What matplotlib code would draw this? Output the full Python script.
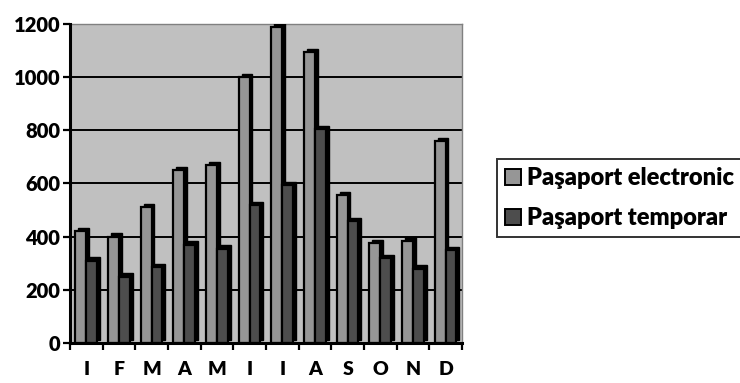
import matplotlib
matplotlib.use("Agg")
import matplotlib.pyplot as plt
import numpy as np
from matplotlib.patches import Patch

months = ["I", "F", "M", "A", "M", "I", "I", "A", "S", "O", "N", "D"]
electronic = [420, 400, 510, 650, 670, 1000, 1190, 1095, 555, 375, 385, 760]
temporar = [310, 250, 285, 370, 355, 520, 595, 805, 460, 320, 280, 350]
series_names = ["Paşaport electronic", "Paşaport temporar"]
yticks = [0, 200, 400, 600, 800, 1000, 1200]

plt.rcParams['font.family'] = ['Lato', 'DejaVu Sans']
plt.rcParams['font.weight'] = 'bold'

fig = plt.figure(figsize=(7.4, 3.83), dpi=100)
ax = fig.add_axes([70/740, 40/383, 392/740, 319/383])
ax.set_facecolor('#C0C0C0')

x = np.arange(len(months))
w = 0.33
dx = 0.09   # depth offset in category units
dy = 12     # depth offset in data units
c_el = '#969696'
c_te = '#4D4D4D'

for vals, off, col in [(electronic, -0.17, c_el), (temporar, 0.16, c_te)]:
    # 3D depth (side/top face)
    ax.bar(x + off + dx, vals, width=w, bottom=dy, color='black',
           edgecolor='black', linewidth=1.0, zorder=3)
    ax.bar(x + off, vals, width=w, color=col, edgecolor='black',
           linewidth=1.6, zorder=4)

ax.set_xlim(-0.5, len(months) - 0.5)
ax.set_ylim(0, 1200)
ax.set_yticks(yticks)
ax.set_yticklabels([str(v) for v in yticks], fontsize=14.5, fontweight='heavy')
ax.yaxis.grid(True, color='black', linewidth=1.4, zorder=1)
ax.set_axisbelow(True)

ax.set_xticks(x)
ax.set_xticklabels(months, fontsize=14, fontweight='heavy')
ax.set_xticks(np.arange(-0.5, len(months)), minor=True)
ax.tick_params(axis='x', which='major', length=0, pad=13)
ax.tick_params(axis='x', which='minor', length=5, width=1.6, direction='out')
ax.tick_params(axis='y', length=5, width=1.6, direction='out', pad=2)

for s in ['left', 'bottom']:
    ax.spines[s].set_linewidth(2.2)
    ax.spines[s].set_color('black')
    ax.spines[s].set_zorder(6)
for s in ['top', 'right']:
    ax.spines[s].set_linewidth(1.0)
    ax.spines[s].set_color('#808080')

handles = [Patch(facecolor=c_el, edgecolor='black', linewidth=1.4),
           Patch(facecolor=c_te, edgecolor='black', linewidth=1.4)]
leg = fig.legend(handles, series_names, loc='upper left',
                 bbox_to_anchor=(497/740, 1 - 159/383), fontsize=17,
                 frameon=True, fancybox=False, handlelength=0.65,
                 handleheight=0.65, handletextpad=0.25, borderpad=0.35,
                 labelspacing=0.75, borderaxespad=0)
leg.get_frame().set_edgecolor('black')
leg.get_frame().set_linewidth(1.4)
for t in leg.get_texts():
    t.set_fontweight('heavy')

fig.savefig('out.png', dpi=100)
